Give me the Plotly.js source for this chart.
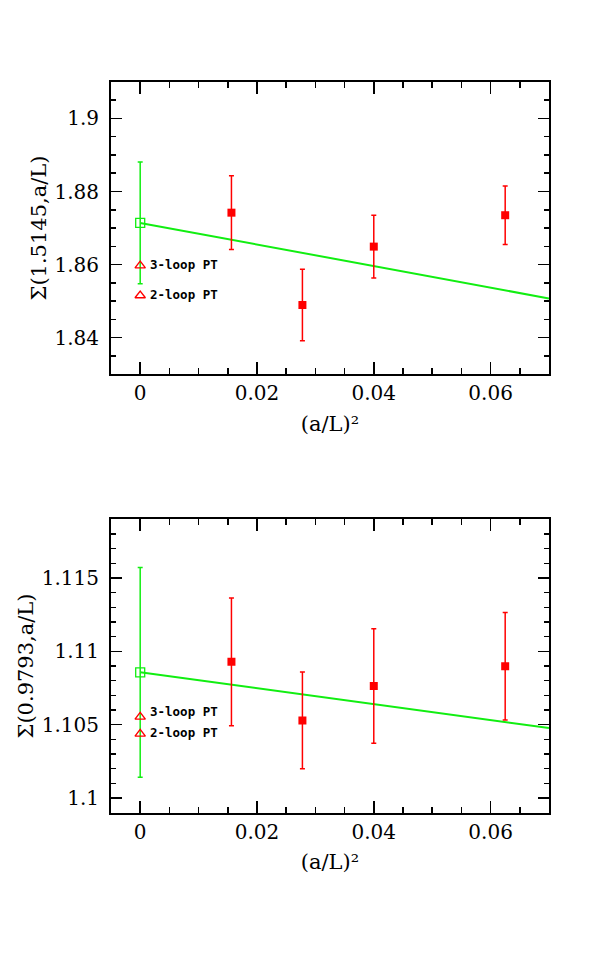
<!DOCTYPE html>
<html>
<head>
<meta charset="utf-8">
<script src="https://cdn.plot.ly/plotly-3.0.1.min.js"></script>
<style>html,body{margin:0;padding:0;background:#fff;}#chart{width:599px;height:959px;}</style>
</head>
<body>
<div id="chart"></div>
<script>
// x values: (a/L)^2
const xLattice = [1/64, 1/36, 1/25, 1/16];
const xCont = [0];
const xFit = [0, 0.07];

// top panel: Sigma(1.5145, a/L)
const topY = [1.8742, 1.8489, 1.8649, 1.8735];
const topErr = [0.0101, 0.0098, 0.0086, 0.0080];
const topCont = [1.8714];
const topContErr = [0.0167];
const topFit = [1.8714, 1.8507];
const topPT3 = [1.8597];
const topPT2 = [1.8515];

// bottom panel: Sigma(0.9793, a/L)
const botY = [1.10928, 1.10529, 1.10764, 1.10898];
const botErr = [0.00435, 0.0033, 0.0039, 0.00367];
const botCont = [1.10857];
const botContErr = [0.00715];
const botFit = [1.10857, 1.10477];
const botPT3 = [1.10553];
const botPT2 = [1.10437];

const xTicks = [0, 0.02, 0.04, 0.06];
const xTickText = ['0', '0.02', '0.04', '0.06'];
const topTicks = [1.84, 1.86, 1.88, 1.9];
const topTickText = ['1.84', '1.86', '1.88', '1.9'];
const botTicks = [1.1, 1.105, 1.11, 1.115];
const botTickText = ['1.1', '1.105', '1.11', '1.115'];

const RED = '#ff0000', GREEN = '#11ee11';
const FONT = 'DejaVu Serif';

function panel(xa, ya, y, err, cont, contErr, fit, pt3, pt2) {
  return [
    {x: xFit, y: fit, xaxis: xa, yaxis: ya, mode: 'lines', line: {color: GREEN, width: 2}, hoverinfo: 'skip'},
    {x: xCont, y: cont, xaxis: xa, yaxis: ya, mode: 'markers',
     marker: {symbol: 'square-open', size: 9, color: GREEN, line: {width: 1.3}},
     error_y: {type: 'data', array: contErr, color: GREEN, thickness: 1.5, width: 2.5}},
    {x: xLattice, y: y, xaxis: xa, yaxis: ya, mode: 'markers',
     marker: {symbol: 'square', size: 8, color: RED},
     error_y: {type: 'data', array: err, color: RED, thickness: 1.5, width: 2.5}},
    {x: xCont, y: pt3, xaxis: xa, yaxis: ya, mode: 'markers',
     marker: {symbol: 'triangle-up-open', size: 9, color: RED, line: {width: 1.4}}},
    {x: xCont, y: pt2, xaxis: xa, yaxis: ya, mode: 'markers',
     marker: {symbol: 'triangle-up-open', size: 9, color: RED, line: {width: 1.4}}}
  ];
}

const data = [].concat(
  panel('x', 'y', topY, topErr, topCont, topContErr, topFit, topPT3, topPT2),
  panel('x2', 'y2', botY, botErr, botCont, botContErr, botFit, botPT3, botPT2)
);

function xAxis(anchor) {
  return {
    anchor: anchor, domain: [0.1853, 0.9165], range: [-0.005, 0.07],
    tickvals: xTicks, ticktext: xTickText, ticks: 'inside', ticklen: 12, tickwidth: 1.5,
    tickcolor: '#000', showline: true, linecolor: '#000', linewidth: 2, mirror: 'ticks',
    showgrid: false, zeroline: false,
    minor: {dtick: 0.005, tick0: 0, ticks: 'inside', ticklen: 6, tickwidth: 1.5, tickcolor: '#000', showgrid: false},
    tickfont: {family: FONT, size: 20, color: '#000'},
    title: {text: '(a/L)²', font: {family: FONT, size: 21, color: '#000'}, standoff: 12}
  };
}
function yAxis(anchor, dom, range, tv, tt, dminor, title) {
  return {
    anchor: anchor, domain: dom, range: range,
    tickvals: tv, ticktext: tt, ticks: 'inside', ticklen: 11, tickwidth: 1.5,
    tickcolor: '#000', showline: true, linecolor: '#000', linewidth: 2, mirror: 'ticks',
    showgrid: false, zeroline: false, ticklabelstandoff: 6,
    minor: {dtick: dminor, tick0: 0, ticks: 'inside', ticklen: 5, tickwidth: 1.5, tickcolor: '#000', showgrid: false},
    tickfont: {family: FONT, size: 20, color: '#000'},
    title: {text: title, font: {family: FONT, size: 21, color: '#000'}, standoff: 2}
  };
}

const annFont = {family: 'DejaVu Sans Mono', size: 12.5, color: '#000', weight: 'bold'};
function ann(xr, yr, yv, txt) {
  return {x: 0, y: yv, xref: xr, yref: yr, text: '<b>' + txt + '</b>', showarrow: false,
          xanchor: 'left', yanchor: 'middle', xshift: 8, yshift: 1, font: annFont};
}

const layout = {
  width: 599, height: 959, margin: {l: 0, r: 0, t: 0, b: 0},
  paper_bgcolor: '#fff', plot_bgcolor: '#fff', showlegend: false,
  xaxis: xAxis('y'),
  yaxis: yAxis('x', [0.6100, 0.9145], [1.83, 1.91], topTicks, topTickText, 0.005, 'Σ(1.5145,a/L)'),
  xaxis2: xAxis('y2'),
  yaxis2: yAxis('x2', [0.1526, 0.4585], [1.099, 1.119], botTicks, botTickText, 0.001, 'Σ(0.9793,a/L)'),
  annotations: [
    ann('x', 'y', topPT3[0], '3-loop PT'),
    ann('x', 'y', topPT2[0], '2-loop PT'),
    ann('x2', 'y2', botPT3[0] + 0.0003, '3-loop PT'),
    ann('x2', 'y2', botPT2[0], '2-loop PT')
  ]
};

Plotly.newPlot('chart', data, layout, {staticPlot: true, displayModeBar: false});
</script>
</body>
</html>
